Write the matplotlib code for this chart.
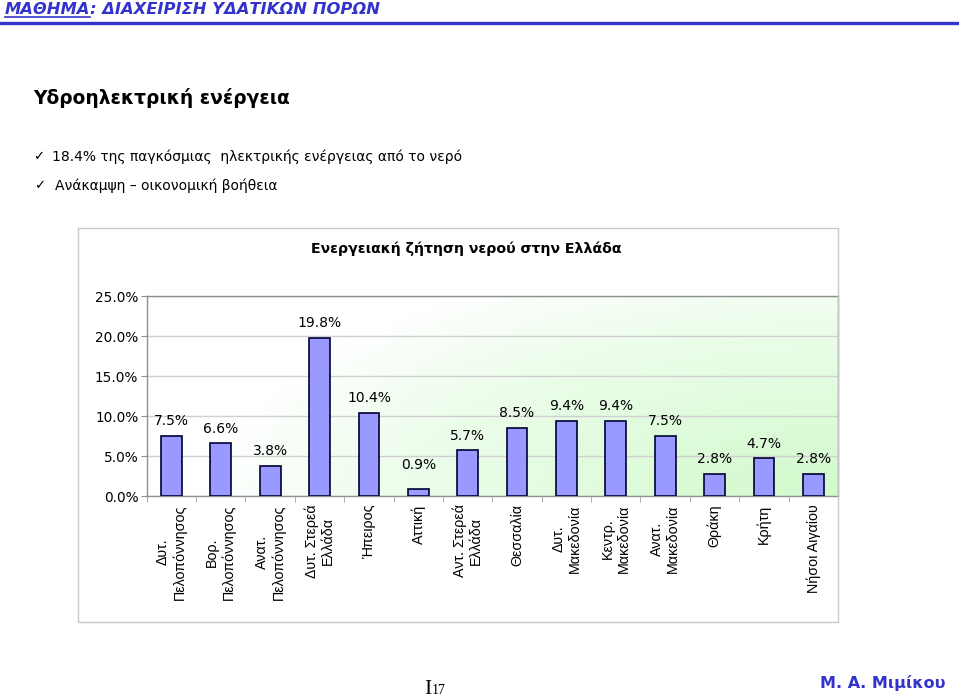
import matplotlib
matplotlib.use("Agg")
import matplotlib.pyplot as plt
import numpy as np
from matplotlib.patches import Rectangle
from matplotlib.lines import Line2D

# ---------------- data ----------------
categories = ["Δυτ.\nΠελοπόννησος", "Βορ.\nΠελοπόννησος", "Ανατ.\nΠελοπόννησος",
              "Δυτ. Στερεά\nΕλλάδα", "Ήπειρος", "Αττική", "Αντ. Στερεά\nΕλλάδα",
              "Θεσσαλία", "Δυτ.\nΜακεδονία", "Κεντρ.\nΜακεδονία", "Ανατ.\nΜακεδονία",
              "Θράκη", "Κρήτη", "Νήσοι Αιγαίου"]
values = [7.5, 6.6, 3.8, 19.8, 10.4, 0.9, 5.7, 8.5, 9.4, 9.4, 7.5, 2.8, 4.7, 2.8]
yticks = [0, 5, 10, 15, 20, 25]
ytick_labels = [f"{v:.1f}%" for v in yticks]

header_a = "ΜΑΘΗΜΑ"
header_b = ": ΔΙΑΧΕΙΡΙΣΗ ΥΔΑΤΙΚΩΝ ΠΟΡΩΝ"
slide_title = "Υδροηλεκτρική ενέργεια"
bullets = ["18.4% της παγκόσμιας  ηλεκτρικής ενέργειας από το νερό",
           "Ανάκαμψη – οικονομική βοήθεια"]
chart_title = "Ενεργειακή ζήτηση νερού στην Ελλάδα"
author = "Μ. Α. Μιμίκου"

# ---------------- figure ----------------
W, H = 959, 699
fig = plt.figure(figsize=(W / 100, H / 100), dpi=100)
fig.patch.set_facecolor("white")
renderer = fig.canvas.get_renderer()

def fx(px):
    return px / W

def fy(py):
    return 1 - py / H

def fit_size(s, target_w, base=12, **kw):
    t = fig.text(0, 0, s, fontsize=base, **kw)
    w = t.get_window_extent(renderer).width
    t.remove()
    return base * target_w / w

def fit_text(x, y, s, target_w, base=12, **kw):
    size = fit_size(s, target_w, base, **kw)
    return fig.text(fx(x), fy(y), s, fontsize=size, **kw)

BLUE = "#3333CC"
hdr_kw = dict(color=BLUE, fontweight="bold", fontstyle="italic", family="DejaVu Sans")

# header
hsize = fit_size(header_a + header_b, 373, base=12, **hdr_kw)
ta = fig.text(fx(5), fy(14), header_a, fontsize=hsize, va="baseline", ha="left", **hdr_kw)
bb = ta.get_window_extent(renderer)
fig.add_artist(Line2D([bb.x0 / W, bb.x1 / W], [fy(16.5), fy(16.5)],
                      transform=fig.transFigure, color=BLUE, lw=1.2))
fig.text(bb.x1 / W, fy(14), header_b, fontsize=hsize, va="baseline", ha="left", **hdr_kw)
fig.add_artist(Line2D([0, 1], [fy(22.5), fy(22.5)], transform=fig.transFigure,
                      color=BLUE, lw=2.4))

# slide title
fit_text(33, 98, slide_title, 258, base=15, fontweight="bold",
         family="DejaVu Sans", va="center", ha="left", color="black")

# bullets
fig.text(fx(33), fy(157), "✓", fontsize=9.5, family="DejaVu Sans", va="center", ha="left")
b1 = fit_text(52, 157, bullets[0], 410, base=12, family="DejaVu Sans",
              va="center", ha="left")
fig.text(fx(34), fy(186), "✓", fontsize=9.5, family="DejaVu Sans", va="center", ha="left")
fig.text(fx(55), fy(186), bullets[1], fontsize=b1.get_fontsize(), family="DejaVu Sans",
         va="center", ha="left")

# chart outer frame
fig.add_artist(Rectangle((fx(78), fy(622)), (838 - 78) / W, (622 - 228) / H,
                         transform=fig.transFigure, fill=False,
                         edgecolor="#C8C8C8", lw=1))

# chart title
fit_text(311, 249, chart_title, 310, base=11, fontweight="bold",
         family="DejaVu Sans", va="center", ha="left")

# axes
L, R, T, B = 146.7, 838, 296, 496
ax = fig.add_axes([fx(L), fy(B), (R - L) / W, (B - T) / H])
n = len(values)
xpos = np.arange(n)
ax.set_xlim(-0.5, n - 0.5)
ax.set_ylim(0, 25)

# gradient background (white top-left -> light green bottom-right)
nx, ny = 400, 150
u = np.linspace(0, 1, nx)[None, :]
v = np.linspace(0, 1, ny)[:, None]
dx = (1 - u) * (R - L)
dy = v * (B - T) * 2.5
dist = np.sqrt(dx ** 2 + dy ** 2)
tt = np.clip(1 - dist / 620, 0, 1) ** 0.8
white = np.array([1.0, 1.0, 1.0])
green = np.array([0.82, 0.98, 0.80])
img = white[None, None, :] * (1 - tt[..., None]) + green[None, None, :] * tt[..., None]
ax.imshow(img, extent=(-0.5, n - 0.5, 0, 25), origin="lower", aspect="auto",
          zorder=0, interpolation="bilinear")

ax.yaxis.grid(True, color="#D0D0D0", lw=1)
ax.set_axisbelow(True)

ax.bar(xpos, values, width=0.42, color="#9999FF", edgecolor="#000033",
       linewidth=1.2, zorder=3)

for xi, val in zip(xpos, values):
    ax.annotate(f"{val:.1f}%", (xi, max(val, 2.1)), xytext=(0, 10.5),
                textcoords="offset points", ha="center", va="center",
                fontsize=10, family="DejaVu Sans", zorder=4)

ax.set_yticks(yticks)
ax.set_yticklabels(ytick_labels, fontsize=9.8, family="DejaVu Sans")
ax.tick_params(axis="y", length=4, color="#909090", pad=2)

ax.set_xticks(xpos)
ax.set_xticklabels(categories, rotation=90, fontsize=10.3, family="Liberation Sans",
                   multialignment="center", va="top", ha="center")
ax.tick_params(axis="x", which="major", length=0, pad=6)
ax.set_xticks(np.arange(-0.5, n, 1), minor=True)
ax.tick_params(axis="x", which="minor", length=4, color="#A0A0A0")

for s in ax.spines.values():
    s.set_color("#909090")
    s.set_linewidth(1)

# footer
fig.text(fx(424), fy(694), "I", fontsize=15.5, family="Liberation Serif",
         va="baseline", ha="left")
fig.text(fx(432), fy(694), "17", fontsize=10, family="Liberation Serif",
         va="baseline", ha="left")
fit_text(820, 683, author, 125, base=12, fontweight="bold", color=BLUE,
         family="DejaVu Sans", va="center", ha="left")

fig.savefig("out.png", dpi=100)
